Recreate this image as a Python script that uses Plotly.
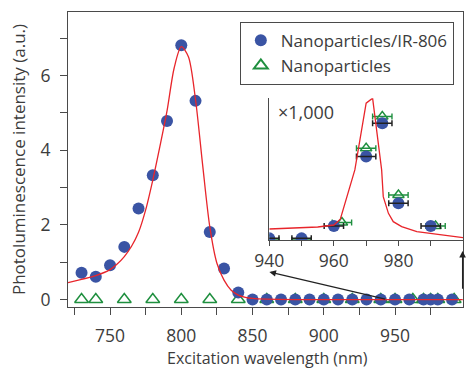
import plotly.graph_objects as go

# ---------------- data ----------------
# main panel: nanoparticles/IR-806 (filled circles)
np_ir_x = [730, 740, 750, 760, 770, 780, 790, 800, 810, 820, 830, 840,
           850, 860, 870, 880, 890, 900, 910, 920, 930, 940, 950, 960,
           970, 975, 980, 990]
np_ir_y = [0.72, 0.61, 0.92, 1.41, 2.44, 3.33, 4.78, 6.81, 5.32, 1.81, 0.83, 0.19,
           0, 0, 0, 0, 0, 0, 0, 0, 0, 0, 0, 0,
           0, 0, 0, 0]
# main panel: nanoparticles only (open triangles)
np_x = [730, 740, 760, 780, 800, 820, 840, 860, 880, 900, 920, 940, 950,
        962.5, 970, 975, 980, 991.5]
np_y = [0] * len(np_x)
# main panel: fitted curve
fit_x = [720.5, 730, 740, 750, 755, 760, 765, 770, 775, 780, 785, 790, 795,
         800, 805, 810, 815, 820, 825, 830, 835, 840, 845, 850, 860, 880, 997.5]
fit_y = [0.45, 0.54, 0.64, 0.8, 0.95, 1.15, 1.42, 1.8, 2.4, 3.2, 4.1, 5.05, 6.2,
         6.77, 6.5, 5.35, 3.6, 1.95, 0.97, 0.52, 0.25, 0.12, 0.06, 0.03, 0.01, 0.0, 0.0]

# inset (values x1,000)
in_ir_x = [940, 950, 960, 970, 975, 980, 990]
in_ir_y = [0.1, 0.1, 0.84, 5.0, 7.0, 2.2, 0.84]
in_np_x = [940, 950, 962.5, 970, 975, 980, 991.5]
in_np_y = [0.0, 0.0, 1.05, 5.5, 7.4, 2.7, 0.84]
in_err = 3.0
in_fit_x = [940, 950, 955, 960, 962, 966.5, 968.6, 970, 972, 974.8, 975.3,
            976.9, 978.4, 981, 985.7, 992.9, 1000]
in_fit_y = [0.66, 0.72, 0.78, 0.9, 1.25, 4.2, 6.7, 8.2, 8.5, 4.2, 2.6,
            1.6, 1.1, 0.8, 0.5, 0.3, 0.14]

x_ticks = [725, 750, 775, 800, 825, 850, 875, 900, 925, 950, 975]
x_labels = ['', '750', '', '800', '', '850', '', '900', '', '950', '']
y_ticks = [0, 1, 2, 3, 4, 5, 6, 7]
y_labels = ['0', '', '2', '', '4', '', '6', '']
in_x_ticks = [940, 950, 960, 970, 980, 990]
in_x_labels = ['940', '', '960', '', '980', '']

names = ['Nanoparticles/IR-806', 'Nanoparticles']
x_title = 'Excitation wavelength (nm)'
y_title = 'Photoluminescence intensity (a.u.)'

# ---------------- styles ----------------
BLUE = '#3a54a4'
GREEN = '#1f8f3f'
RED = '#e8252b'
TXT = '#3c3c3c'
AX = '#4a4a4a'
FONT = 'Open Sans'

fig = go.Figure()

# main panel
fig.add_trace(go.Scatter(x=np_x, y=np_y, mode='markers', name=names[1],
                         marker=dict(symbol='triangle-up-open', size=12, color=GREEN,
                                     line=dict(width=1.5, color=GREEN)),
                         xaxis='x', yaxis='y', showlegend=True, legendrank=2))
fig.add_trace(go.Scatter(x=np_ir_x, y=np_ir_y, mode='markers', name=names[0],
                         marker=dict(symbol='circle', size=12, color=BLUE),
                         xaxis='x', yaxis='y', showlegend=True, legendrank=1))
fig.add_trace(go.Scatter(x=fit_x, y=fit_y, mode='lines',
                         line=dict(color=RED, width=1.3, shape='spline', smoothing=0.8),
                         xaxis='x', yaxis='y', showlegend=False))

# inset
fig.add_trace(go.Scatter(x=in_np_x, y=in_np_y, mode='markers',
                         marker=dict(symbol='triangle-up-open', size=10, color=GREEN,
                                     line=dict(width=1.4, color=GREEN)),
                         error_x=dict(type='constant', value=in_err, color=GREEN,
                                      thickness=1.4, width=3),
                         xaxis='x2', yaxis='y2', showlegend=False))
fig.add_trace(go.Scatter(x=in_ir_x, y=in_ir_y, mode='markers',
                         marker=dict(symbol='circle', size=12, color=BLUE),
                         xaxis='x2', yaxis='y2', showlegend=False))
fig.add_trace(go.Scatter(x=in_ir_x, y=in_ir_y, mode='markers',
                         marker=dict(symbol='circle', size=2, color='rgba(0,0,0,0)'),
                         error_x=dict(type='constant', value=in_err, color='#222222',
                                      thickness=1.5, width=3),
                         xaxis='x2', yaxis='y2', showlegend=False))
fig.add_trace(go.Scatter(x=in_fit_x, y=in_fit_y, mode='lines',
                         line=dict(color=RED, width=1.3),
                         xaxis='x2', yaxis='y2', showlegend=False))

tickfont = dict(family=FONT, size=17.5, color=TXT)

fig.update_layout(
    width=466, height=368,
    margin=dict(l=68, r=3, t=12, b=61),
    paper_bgcolor='white', plot_bgcolor='white',
    font=dict(family=FONT, color=TXT, size=17),
    xaxis=dict(range=[720.5, 997.7], showline=True, linecolor=AX, linewidth=1,
               mirror=True, showgrid=False, zeroline=False, automargin=False,
               tickmode='array', tickvals=x_ticks, ticktext=x_labels,
               ticks='outside', ticklen=7, tickcolor=AX, tickwidth=1,
               tickfont=tickfont, ticklabelstandoff=6),
    yaxis=dict(range=[-0.2, 7.7], showline=True, linecolor=AX, linewidth=1,
               mirror=True, showgrid=False, zeroline=False, automargin=False,
               tickmode='array', tickvals=y_ticks, ticktext=y_labels,
               ticks='outside', ticklen=7, tickcolor=AX, tickwidth=1,
               tickfont=tickfont, ticklabelstandoff=6,
               title=dict(text=y_title, font=dict(size=17, color=TXT), standoff=10)),
    xaxis2=dict(domain=[0.5096, 1.0], anchor='y2', range=[940, 1000],
                showline=True, linecolor=AX, linewidth=1, showgrid=False, zeroline=False,
                tickmode='array', tickvals=in_x_ticks, ticktext=in_x_labels,
                ticks='outside', ticklen=5, tickcolor=AX, tickwidth=1,
                tickfont=tickfont, ticklabelstandoff=0, automargin=False),
    yaxis2=dict(domain=[0.227, 0.708], anchor='x2', range=[0, 8.5],
                showline=True, linecolor=AX, linewidth=1, showgrid=False, zeroline=False,
                showticklabels=False, ticks='', automargin=False),
    legend=dict(x=0.435, y=0.967, xanchor='left', yanchor='top',
                bgcolor='white', bordercolor=AX, borderwidth=1,
                font=dict(family=FONT, size=17, color=TXT),
                tracegroupgap=0, itemsizing='constant'),
    showlegend=True,
)

# x-axis title as annotation so it sits where the reference has it
fig.add_annotation(text=x_title, xref='x domain', yref='paper', x=0.505, y=-0.174,
                   xanchor='center', yanchor='middle', showarrow=False, borderpad=0,
                   font=dict(family=FONT, size=16, color=TXT))

fig.add_annotation(text='\u00d71,000', xref='x2 domain', yref='y2 domain',
                   x=0.035, y=0.9, xanchor='left', yanchor='middle', showarrow=False,
                   font=dict(family=FONT, size=18, color=TXT))

# arrows pointing from the baseline to the inset
fig.add_annotation(x=861.8, y=0.74, xref='x', yref='y', ax=944.2, ay=0.0,
                   axref='x', ayref='y', showarrow=True, arrowhead=2, arrowsize=1.1,
                   arrowwidth=1.2, arrowcolor='#222222', text='')
fig.add_annotation(x=997.4, y=1.3, xref='x', yref='y', ax=997.4, ay=0.25,
                   axref='x', ayref='y', showarrow=True, arrowhead=2, arrowsize=1.1,
                   arrowwidth=1.2, arrowcolor='#222222', text='')

fig.write_html('out.html')
